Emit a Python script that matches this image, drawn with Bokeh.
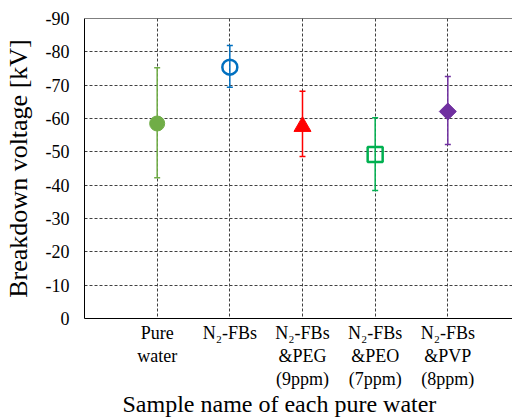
import math
from bokeh.plotting import figure
from bokeh.models import Range1d, FixedTicker, Span, Title
from bokeh.embed import file_html
from bokeh.resources import INLINE

# ---- data ----
categories = ["Pure\nwater", "N\u2082-FBs", "N\u2082-FBs\n&PEG\n(9ppm)",
              "N\u2082-FBs\n&PEO\n(7ppm)", "N\u2082-FBs\n&PVP\n(8ppm)"]
mean_kv = [-58.5, -75.4, -57.6, -49.2, -62.1]
upper_kv = [-75.2, -81.9, -68.2, -60.2, -72.6]
lower_kv = [-42.2, -69.4, -48.6, -38.4, -52.2]
y_ticks = [0, -10, -20, -30, -40, -50, -60, -70, -80, -90]
x_title = "Sample name of each pure water"
y_title = "Breakdown voltage [kV]"

# ---- style ----
colors = ["#70AD47", "#0070C0", "#FF0000", "#00B050", "#7030A0"]
FONT = "Liberation Serif"
xpos = list(range(1, len(categories) + 1))

p = figure(width=512, height=419, output_backend="svg", toolbar_location=None,
           x_range=Range1d(0, 5.89), y_range=Range1d(0, -90),
           min_border_left=82, min_border_right=0, min_border_top=18,
           min_border_bottom=101)
p.outline_line_color = None
p.background_fill_color = "white"

# grids
p.ygrid.ticker = FixedTicker(ticks=y_ticks)
p.ygrid.grid_line_color = "#404040"
p.ygrid.grid_line_dash = "3 2"
p.ygrid.grid_line_width = 1
p.xgrid.ticker = FixedTicker(ticks=xpos)
p.xgrid.grid_line_color = "#404040"
p.xgrid.grid_line_dash = "3 2"
p.xgrid.grid_line_width = 1

# y axis
yax = p.yaxis[0]
yax.ticker = FixedTicker(ticks=y_ticks)
yax.major_label_overrides = {t: str(t) for t in y_ticks}
yax.major_tick_out = 0
yax.major_tick_in = 0
yax.minor_tick_out = 0
yax.minor_tick_in = 0
yax.axis_line_color = "black"
yax.major_label_standoff = 15
yax.major_label_text_font = FONT
yax.major_label_text_font_size = "18px"
yax.major_label_text_color = "black"
yax.axis_label = y_title
yax.axis_label_text_font = FONT
yax.axis_label_text_font_size = "26px"
yax.axis_label_text_font_style = "normal"
yax.axis_label_text_color = "black"
yax.axis_label_standoff = 10

# x axis with category labels
xax = p.xaxis[0]
xax.ticker = FixedTicker(ticks=xpos)
xax.major_label_overrides = {x: c for x, c in zip(xpos, categories)}
xax.major_tick_out = 0
xax.major_tick_in = 0
xax.minor_tick_out = 0
xax.minor_tick_in = 0
xax.axis_line_color = "black"
xax.major_label_standoff = 4
xax.major_label_text_font = FONT
xax.major_label_text_font_size = "18px"
xax.major_label_text_color = "black"
xax.major_label_text_line_height = 1.15

# x title
p.add_layout(Title(text=x_title, align="left", vertical_align="top", offset=38,
                   standoff=-1, text_font=FONT, text_font_size="24px",
                   text_font_style="normal", text_color="black"), "below")

# top frame line
p.add_layout(Span(location=-90, dimension="width", line_color="black", line_width=1))

# error bars
p.segment(x0=xpos, y0=lower_kv, x1=xpos, y1=upper_kv, line_color=colors, line_width=1.5)
p.scatter(x=xpos, y=upper_kv, marker="dash", size=6, line_color=colors, line_width=1.5)
p.scatter(x=xpos, y=lower_kv, marker="dash", size=6, line_color=colors, line_width=1.5)

# markers
p.scatter(x=[xpos[0]], y=[mean_kv[0]], marker="circle", size=15,
          fill_color=colors[0], line_color=colors[0])
p.scatter(x=[xpos[1]], y=[mean_kv[1]], marker="circle", size=15,
          fill_color=None, line_color=colors[1], line_width=2.5)
p.scatter(x=[xpos[2]], y=[mean_kv[2]], marker="triangle", size=17,
          fill_color=colors[2], line_color=colors[2])
p.scatter(x=[xpos[3]], y=[mean_kv[3]], marker="square", size=15,
          fill_color=None, line_color=colors[3], line_width=2.5)
p.scatter(x=[xpos[4]], y=[mean_kv[4]], marker="square", size=12, angle=math.pi / 4,
          fill_color=colors[4], line_color=colors[4])

open("out.html", "w").write(file_html(p, INLINE))
